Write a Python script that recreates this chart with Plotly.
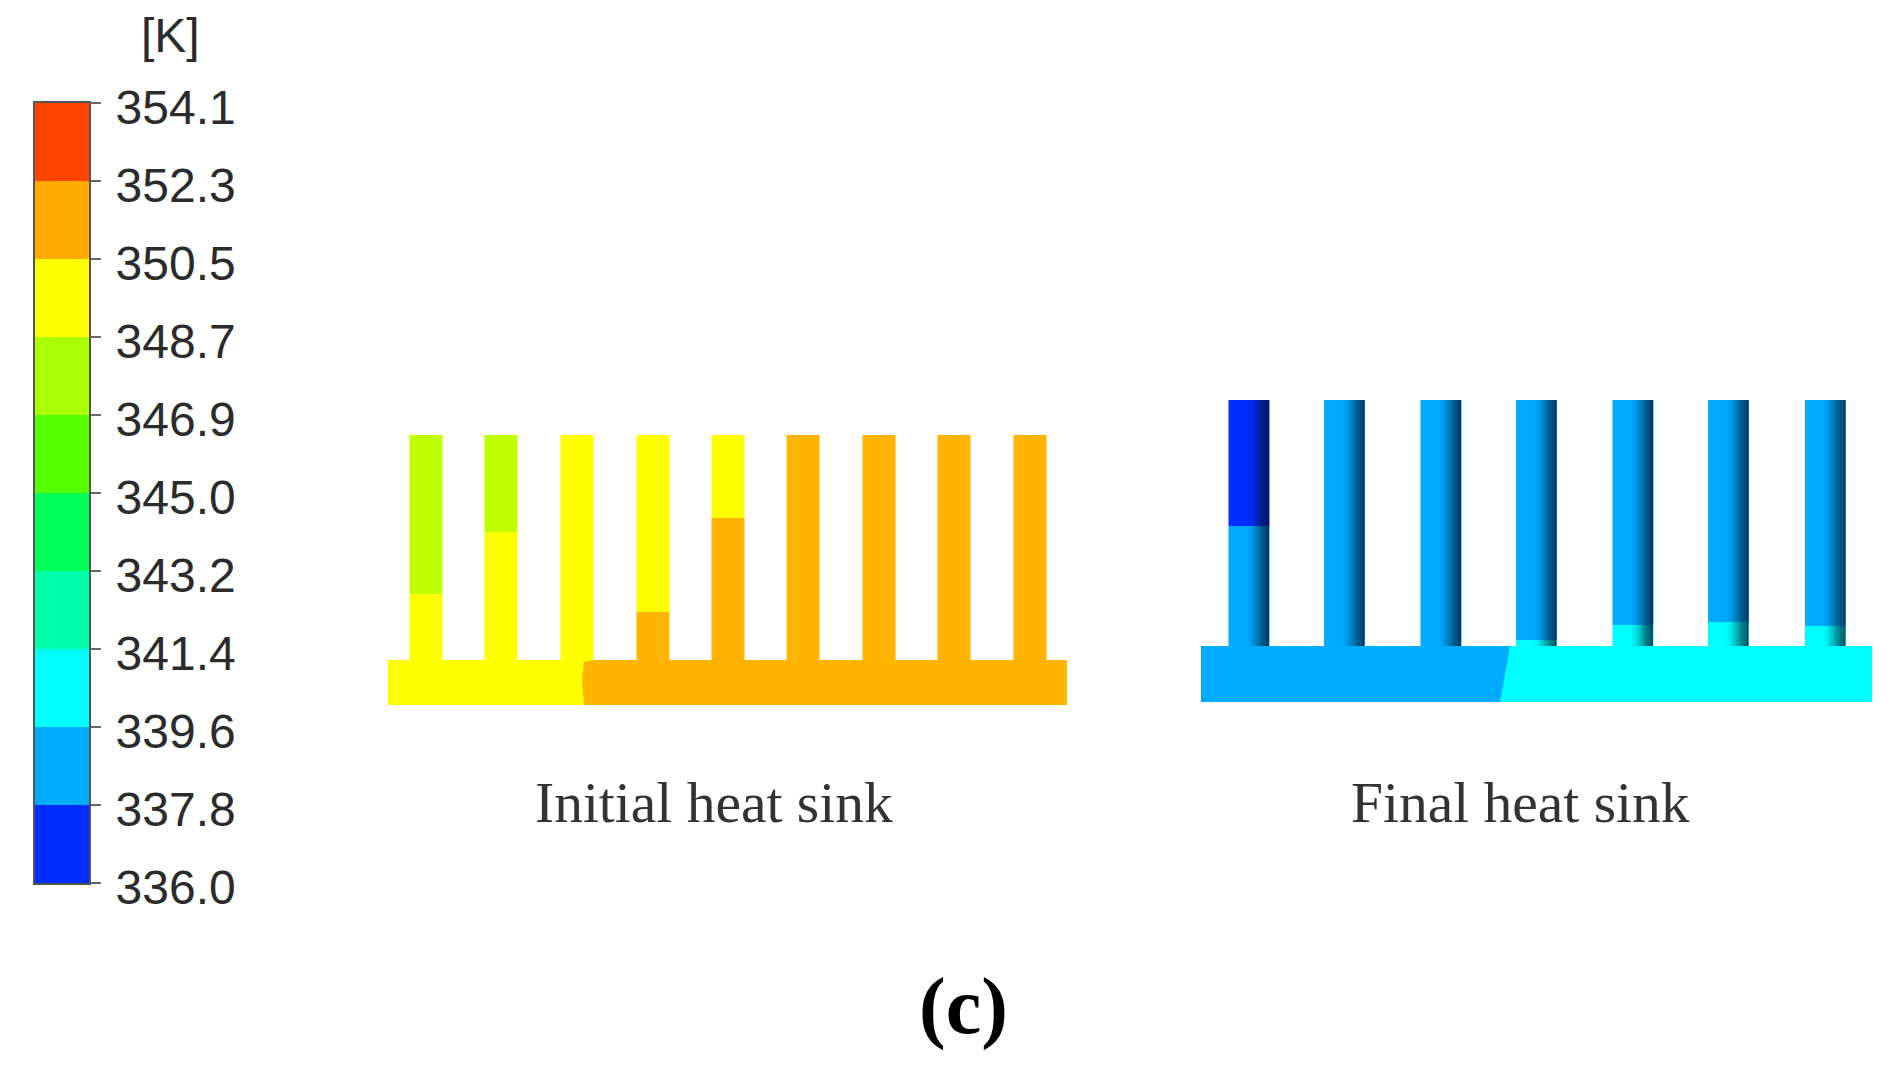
import plotly.graph_objects as go

# colour bar
levels = [336.0, 337.81, 339.62, 341.43, 343.24, 345.05, 346.86, 348.67, 350.48, 352.29, 354.1]
level_labels = ["336.0", "337.8", "339.6", "341.4", "343.2", "345.0", "346.9", "348.7", "350.5", "352.3", "354.1"]
band_colors = ["#002dff", "#00aaff", "#00ffff", "#00ffaa", "#00ff55",
               "#55ff00", "#aaff00", "#ffff00", "#ffaa00", "#ff4400"]

GREEN = "#bfff00"
YELLOW = "#ffff00"
ORANGE = "#ffb400"
DARK_BLUE = "#002dff"
BLUE = "#00aaff"
CYAN = "#00ffff"

# initial heat sink, picture pixels
init_fin_left = [409.5, 484.5, 560.5, 636.5, 711.5, 786.5, 862.5, 937.5, 1013.5]
init_fin_width = 33
init_fin_top = 435
init_base_top = 660
init_base_bottom = 705
init_upper = [GREEN, GREEN, YELLOW, YELLOW, YELLOW, ORANGE, ORANGE, ORANGE, ORANGE]
init_lower = [YELLOW, YELLOW, YELLOW, ORANGE, ORANGE, ORANGE, ORANGE, ORANGE, ORANGE]
init_split = [594, 532, 660, 612, 518, 660, 660, 660, 660]
init_base_x = [388, 1067]
init_base_split_x = [593, 584, 582, 584]
init_base_split_y = [660, 662, 681, 705]

# final heat sink, picture pixels
final_fin_left = [1228.5, 1324, 1420.5, 1516, 1612.5, 1708, 1805]
final_fin_width = 41
final_fin_top = 400
final_base_top = 646
final_base_bottom = 702
final_upper = [DARK_BLUE, BLUE, BLUE, BLUE, BLUE, BLUE, BLUE]
final_lower = [BLUE, BLUE, BLUE, CYAN, CYAN, CYAN, CYAN]
final_split = [526, 646, 646, 640, 625, 622, 626]
final_base_x = [1201, 1872]
final_base_split_x = [1510, 1500]
final_base_split_y = [646, 702]

# shading on the right part of the round fins
shade_offset = [21, 24, 27, 30, 33, 36, 39]
shade_alpha = [0.06, 0.14, 0.26, 0.38, 0.52, 0.62, 0.72]
shade_width = 3

fig = go.Figure()


def add_fins(lefts, width, top, base_top, upper, lower, split):
    centres = [x + width / 2 for x in lefts]
    fig.add_trace(go.Bar(x=centres, base=[top] * len(lefts), y=[s - top for s in split],
                         width=width, marker=dict(color=upper, line_width=0)))
    fig.add_trace(go.Bar(x=centres, base=split, y=[base_top - s + 1 for s in split],
                         width=width, marker=dict(color=lower, line_width=0)))


def add_poly(xs, ys, color):
    fig.add_trace(go.Scatter(x=xs, y=ys, mode="lines", fill="toself", fillcolor=color,
                             line=dict(width=0), hoverinfo="skip"))


# initial
add_poly([init_base_x[0], init_base_x[1], init_base_x[1], init_base_x[0]],
         [init_base_top, init_base_top, init_base_bottom, init_base_bottom], ORANGE)
add_poly([init_base_x[0]] + init_base_split_x + [init_base_x[0]],
         [init_base_top] + init_base_split_y + [init_base_bottom], YELLOW)
add_fins(init_fin_left, init_fin_width, init_fin_top, init_base_top, init_upper, init_lower, init_split)

# final
add_poly([final_base_x[0], final_base_x[1], final_base_x[1], final_base_x[0]],
         [final_base_top, final_base_top, final_base_bottom, final_base_bottom], CYAN)
add_poly([final_base_x[0]] + final_base_split_x + [final_base_x[0]],
         [final_base_top] + final_base_split_y + [final_base_bottom], BLUE)
add_fins(final_fin_left, final_fin_width, final_fin_top, final_base_top, final_upper, final_lower, final_split)

for off, alpha in zip(shade_offset, shade_alpha):
    fig.add_trace(go.Bar(x=[x + off for x in final_fin_left],
                         base=[final_fin_top] * len(final_fin_left),
                         y=[final_base_top - final_fin_top] * len(final_fin_left),
                         width=shade_width,
                         marker=dict(color=f"rgba(0,20,40,{alpha})", line_width=0)))

# colour bar goes on its own axes
fig.add_trace(go.Bar(x=[0] * len(band_colors), base=levels[:-1],
                     y=[b - a for a, b in zip(levels[:-1], levels[1:])],
                     width=1, marker=dict(color=band_colors, line_width=0),
                     xaxis="x2", yaxis="y2"))

W, H = 1894, 1071
label_font = "Liberation Serif"
fig.update_layout(
    width=W, height=H,
    margin=dict(l=0, r=0, t=0, b=0),
    paper_bgcolor="white", plot_bgcolor="rgba(0,0,0,0)",
    showlegend=False, barmode="overlay",
    xaxis=dict(range=[0, W], domain=[0, 1], visible=False, automargin=False),
    yaxis=dict(range=[H, 0], domain=[0, 1], visible=False, automargin=False),
    xaxis2=dict(range=[-0.5, 0.5], domain=[34.5 / W, 89 / W], anchor="y2", showticklabels=False,
                ticks="", showgrid=False, zeroline=False, showline=True, mirror=True,
                linecolor="#555555", linewidth=2, automargin=False),
    yaxis2=dict(range=[336.0, 354.1], domain=[1 - 883 / H, 1 - 103 / H], anchor="x2", side="right",
                tickvals=levels, ticktext=level_labels,
                ticks="outside", ticklen=10, tickwidth=2, tickcolor="#666666",
                tickfont=dict(family="Liberation Sans", size=48, color="#2b2b2b"),
                ticklabelstandoff=5, ticklabelshift=4,
                showgrid=False, zeroline=False, showline=True, mirror=True,
                linecolor="#555555", linewidth=2, automargin=False),
    annotations=[
        dict(x=170, y=35, xref="x", yref="y", text="[K]", showarrow=False,
             font=dict(family="Liberation Sans", size=48, color="#2b2b2b")),
        dict(x=713.5, y=802, xref="x", yref="y", text="Initial heat sink", showarrow=False,
             font=dict(family=label_font, size=57.5, color="#333333")),
        dict(x=1520.5, y=802, xref="x", yref="y", text="Final heat sink", showarrow=False,
             font=dict(family=label_font, size=57.5, color="#333333")),
        dict(x=963, y=1006, xref="x", yref="y", text="<b>(c)</b>", showarrow=False,
             font=dict(family=label_font, size=80, color="black")),
    ],
)

fig.write_html("out.html", config={"displayModeBar": False},
               post_script="document.body.style.margin='0';")
